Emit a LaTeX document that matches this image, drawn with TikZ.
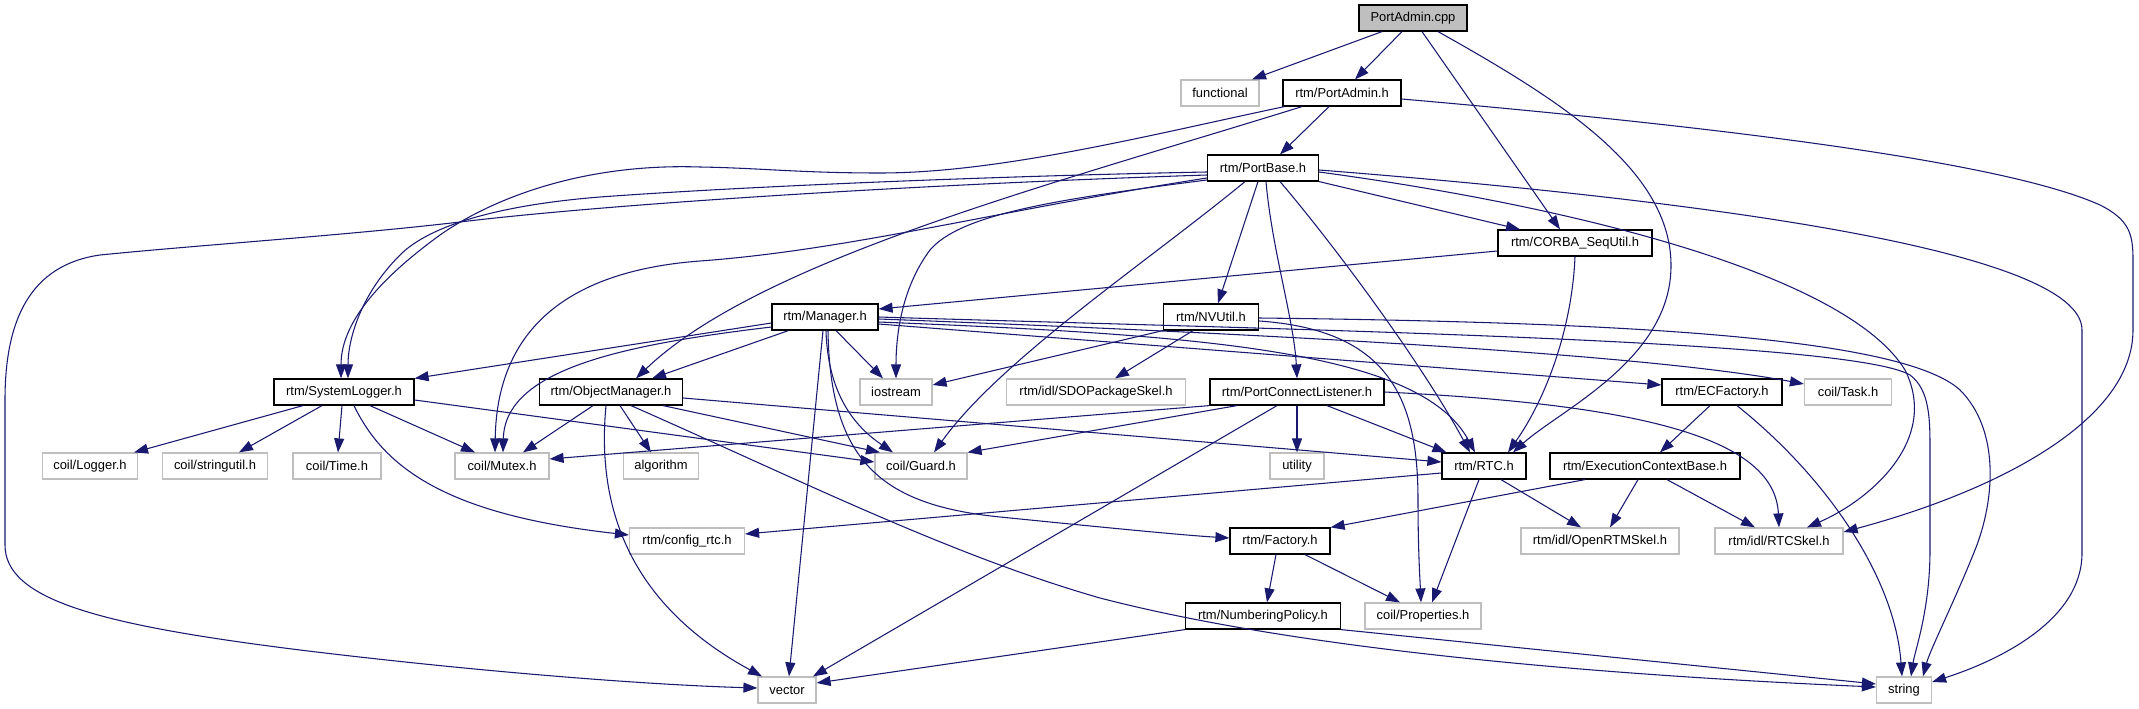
\documentclass[tikz,border=0pt]{standalone}
\usepackage{fontspec}
\setmainfont{Liberation Sans}
\usetikzlibrary{calc,arrows.meta}
\definecolor{edgeblue}{HTML}{191970}
\definecolor{grey75}{HTML}{BFBFBF}
\tikzset{
 box/.style={rectangle, inner sep=0pt, minimum height=19.5pt, font=\fontsize{9.7}{11}\selectfont, fill=white},
 doc/.style={box, draw=black, line width=0.9pt},
 ext/.style={box, draw=grey75, line width=0.9pt},
 root/.style={doc, fill=grey75},
 bw/.style={minimum width=#1*0.75pt},
 dep/.style={draw=edgeblue, line width=0.8pt, -{Triangle[length=10.5pt,width=7.5pt]}},
}
\begin{document}
\begin{tikzpicture}[x=0.75pt,y=-0.75pt]
\useasboundingbox (0,0) rectangle (2139,709);
% row 1
\node[root,bw=108] (cpp) at (1413,18) {PortAdmin.cpp};
% row 2
\node[ext,bw=78] (functional) at (1220,93) {functional};
\node[doc,bw=118] (padminh) at (1342,93) {rtm/PortAdmin.h};
% row 3
\node[doc,bw=111] (pbase) at (1263,168) {rtm/PortBase.h};
% row 4
\node[doc,bw=154] (corba) at (1575,243) {rtm/CORBA\_SeqUtil.h};
% row 5
\node[doc,bw=106] (manager) at (825,317) {rtm/Manager.h};
\node[doc,bw=95] (nvutil) at (1211,317) {rtm/NVUtil.h};
% row 6
\node[doc,bw=140] (syslog) at (344,392) {rtm/SystemLogger.h};
\node[doc,bw=143] (objmgr) at (611,392) {rtm/ObjectManager.h};
\node[ext,bw=72] (iostream) at (896,392) {iostream};
\node[ext,bw=179] (sdo) at (1096,392) {rtm/idl/SDOPackageSkel.h};
\node[doc,bw=174] (pcl) at (1297,392) {rtm/PortConnectListener.h};
\node[doc,bw=120] (ecf) at (1722,392) {rtm/ECFactory.h};
\node[ext,bw=87] (task) at (1848,392) {coil/Task.h};
% row 7
\node[ext,bw=95] (logger) at (90,466) {coil/Logger.h};
\node[ext,bw=105] (stringutil) at (215,466) {coil/stringutil.h};
\node[ext,bw=88] (time) at (337,466) {coil/Time.h};
\node[ext,bw=94] (mutex) at (502,466) {coil/Mutex.h};
\node[ext,bw=75] (algorithm) at (661,466) {algorithm};
\node[ext,bw=92] (guard) at (921,466) {coil/Guard.h};
\node[ext,bw=54] (utility) at (1297,466) {utility};
\node[doc,bw=84] (rtc) at (1484,466) {rtm/RTC.h};
\node[doc,bw=190] (ecb) at (1645,466) {rtm/ExecutionContextBase.h};
% row 8
\node[ext,bw=115] (config) at (687,541) {rtm/config\_rtc.h};
\node[doc,bw=100] (factory) at (1280,541) {rtm/Factory.h};
\node[ext,bw=158] (ortm) at (1600,541) {rtm/idl/OpenRTMSkel.h};
\node[ext,bw=128] (rtcskel) at (1779,541) {rtm/idl/RTCSkel.h};
% row 9
\node[doc,bw=155] (numpol) at (1263,616) {rtm/NumberingPolicy.h};
\node[ext,bw=116] (props) at (1423,616) {coil/Properties.h};
% row 10
\node[ext,bw=58] (vector) at (787,690) {vector};
\node[ext,bw=55] (string) at (1904,690) {string};

% PortAdmin.cpp
\draw[dep] ($(cpp.south)+(-31,0)$) -- ($(functional.north)+(32,0)$);
\draw[dep] ($(cpp.south)+(-11,0)$) -- ($(padminh.north)+(13,0)$);
\draw[dep] ($(cpp.south)+(9,0)$) -- ($(corba.north)+(-15,0)$);
\draw[dep] ($(cpp.south)+(25,0)$) .. controls (1560,100) and (1672,170) .. (1671,267) .. controls (1670,360) and (1560,410) .. ($(rtc.north)+(29,0)$);
% PortAdmin.h
\draw[dep] ($(padminh.south)+(-13,0)$) -- ($(pbase.north)+(17,0)$);
\draw[dep] ($(padminh.south west)+(2,0)$) .. controls (1150,135) and (1000,173) .. (880,173) .. controls (800,173) and (760,168) .. (700,167) .. controls (580,163) and (490,200) .. (440,235) .. controls (385,275) and (341,320) .. ($(syslog.north)+(-3,0)$);
\draw[dep] ($(padminh.south)+(-40,0)$) .. controls (1050,185) and (760,260) .. ($(objmgr.north)+(25,0)$);
\draw[dep] ($(padminh.east)+(0,6)$) .. controls (1700,125) and (2000,160) .. (2100,205) .. controls (2130,220) and (2133,235) .. (2133,260) -- (2133,330) .. controls (2133,420) and (2000,490) .. ($(rtcskel.east)+(0,-9)$);
% PortBase.h
\draw[dep] (pbase.south east) -- ($(corba.north)+(-55,0)$);
\draw[dep] ($(pbase.east)+(0,4)$) .. controls (1600,210) and (1850,280) .. (1905,370) .. controls (1940,440) and (1870,500) .. ($(rtcskel.north)+(28,0)$);
\draw[dep] ($(pbase.east)+(0,2)$) .. controls (1700,200) and (2082,250) .. (2082,330) -- (2082,553) .. controls (2082,620) and (2000,660) .. ($(string.east)+(0,-8)$);
\draw[dep] ($(pbase.south)+(-18,0)$) .. controls (1150,260) and (1000,360) .. ($(guard.north)+(13,0)$);
\draw[dep] ($(pbase.south)+(-5,0)$) -- ($(nvutil.north)+(7,0)$);
\draw[dep] ($(pbase.south)+(3,0)$) .. controls (1272,250) and (1294,320) .. (pcl.north);
\draw[dep] ($(pbase.south)+(17,0)$) .. controls (1330,240) and (1420,360) .. ($(rtc.north)+(-14,0)$);
\draw[dep] ($(pbase.west)+(0,4)$) .. controls (1000,176) and (750,186) .. (600,197) .. controls (500,205) and (430,225) .. (400,255) .. controls (360,295) and (348,340) .. ($(syslog.north)+(4,0)$);
\draw[dep] ($(pbase.west)+(0,7)$) .. controls (900,185) and (600,205) .. (460,222) .. controls (350,235) and (200,245) .. (100,255) .. controls (30,265) and (5,320) .. (5,400) -- (5,545) .. controls (5,600) and (100,625) .. (300,650) .. controls (480,672) and (650,685) .. ($(vector.west)+(0,-2)$);
\draw[dep] ($(pbase.west)+(0,10)$) .. controls (1000,210) and (850,250) .. (700,261) .. controls (580,270) and (497,320) .. ($(mutex.north)+(-7,0)$);
\draw[dep] ($(pbase.west)+(0,12)$) .. controls (1050,200) and (960,215) .. (930,250) .. controls (900,290) and (896,340) .. (iostream.north);
% CORBA_SeqUtil.h
\draw[dep] ($(corba.west)+(0,8)$) -- ($(manager.east)+(0,-8)$);
\draw[dep] (corba.south) .. controls (1572,330) and (1545,400) .. ($(rtc.north)+(24,0)$);
% NVUtil.h
\draw[dep] (nvutil.south west) -- ($(iostream.east)+(0,-7)$);
\draw[dep] ($(nvutil.south)+(-18,0)$) -- ($(sdo.north)+(19,0)$);
\draw[dep] ($(nvutil.east)+(0,4)$) .. controls (1390,330) and (1418,400) .. (1418,500) .. controls (1418,550) and (1420,580) .. ($(props.north)+(-2,0)$);
\draw[dep] ($(nvutil.east)+(0,1)$) .. controls (1600,322) and (1900,335) .. (1960,390) .. controls (2000,430) and (1995,500) .. (1975,550) .. controls (1955,600) and (1930,650) .. ($(string.north)+(19,0)$);
% Manager.h
\draw[dep] ($(manager.west)+(0,6)$) -- (syslog.north east);
\draw[dep] ($(manager.south west)+(17,0)$) -- ($(objmgr.north)+(41,0)$);
\draw[dep] ($(manager.west)+(0,10)$) .. controls (620,345) and (505,370) .. ($(mutex.north)+(1,0)$);
\draw[dep] ($(manager.south)+(11,0)$) -- ($(iostream.north)+(-13,0)$);
\draw[dep] ($(manager.south)+(-2,0)$) -- ($(vector.north)+(2,0)$);
\draw[dep] ($(manager.south)+(1,0)$) .. controls (828,400) and (860,430) .. ($(guard.north)+(-28,0)$);
\draw[dep] ($(manager.south)+(3,0)$) .. controls (830,460) and (880,505) .. (1000,517) .. controls (1100,527) and (1180,535) .. ($(factory.west)+(0,-3)$);
\draw[dep] ($(manager.east)+(0,5)$) .. controls (1200,335) and (1420,350) .. ($(rtc.north)+(-9,0)$);
\draw[dep] ($(manager.east)+(0,7)$) -- ($(ecf.west)+(0,-7)$);
\draw[dep] ($(manager.east)+(0,2)$) .. controls (1300,335) and (1650,355) .. ($(task.west)+(0,-8)$);
\draw[dep] ($(manager.east)+(0,0)$) .. controls (1300,330) and (1850,340) .. (1910,375) .. controls (1930,390) and (1930,420) .. (1930,450) -- (1930,550) .. controls (1930,610) and (1915,650) .. ($(string.north)+(7,0)$);
% SystemLogger.h
\draw[dep] ($(syslog.south)+(-41,0)$) -- ($(logger.north)+(44,0)$);
\draw[dep] ($(syslog.south)+(-22,0)$) -- ($(stringutil.north)+(24,0)$);
\draw[dep] ($(syslog.south)+(-2,0)$) -- ($(time.north)+(1,0)$);
\draw[dep] ($(syslog.south)+(26,0)$) -- ($(mutex.north)+(-27,0)$);
\draw[dep] ($(syslog.east)+(0,8)$) -- ($(guard.west)+(0,-4)$);
\draw[dep] ($(syslog.south)+(10,0)$) .. controls (385,470) and (450,515) .. ($(config.west)+(0,-6)$);
% ObjectManager.h
\draw[dep] ($(objmgr.south)+(-18,0)$) -- ($(mutex.north)+(21,0)$);
\draw[dep] ($(objmgr.south)+(9,0)$) -- ($(algorithm.north)+(-10,0)$);
\draw[dep] ($(objmgr.south)+(52,0)$) -- ($(guard.north)+(-41,0)$);
\draw[dep] ($(objmgr.south)+(-5,0)$) .. controls (595,520) and (640,610) .. ($(vector.north)+(-25,0)$);
\draw[dep] ($(objmgr.east)+(0,6)$) -- ($(rtc.west)+(0,-4)$);
\draw[dep] ($(objmgr.south)+(20,0)$) .. controls (800,480) and (950,555) .. (1100,598) .. controls (1300,650) and (1600,675) .. ($(string.west)+(0,-3)$);
% PortConnectListener.h
\draw[dep] (pcl.south west) -- ($(mutex.east)+(0,-7)$);
\draw[dep] ($(pcl.south)+(-60,0)$) -- (guard.north east);
\draw[dep] ($(pcl.south)+(-20,0)$) -- ($(vector.north)+(26,0)$);
\draw[dep] (pcl.south) -- (utility.north);
\draw[dep] ($(pcl.south)+(30,0)$) -- ($(rtc.north west)+(5,0)$);
\draw[dep] (pcl.east) .. controls (1650,405) and (1775,440) .. (rtcskel.north);
% ECFactory.h
\draw[dep] ($(ecf.south)+(-12,0)$) -- ($(ecb.north)+(15,0)$);
\draw[dep] ($(ecf.south)+(15,0)$) .. controls (1830,480) and (1895,580) .. ($(string.north)+(-2,0)$);
% ExecutionContextBase.h
\draw[dep] ($(ecb.south)+(-60,0)$) -- (factory.north east);
\draw[dep] ($(ecb.south)+(-7,0)$) -- ($(ortm.north)+(10,0)$);
\draw[dep] ($(ecb.south)+(22,0)$) -- ($(rtcskel.north)+(-24,0)$);
% RTC.h
\draw[dep] ($(rtc.west)+(0,7)$) -- ($(config.east)+(0,-7)$);
\draw[dep] ($(rtc.south)+(-5,0)$) -- ($(props.north)+(9,0)$);
\draw[dep] ($(rtc.south)+(17,0)$) -- ($(ortm.north)+(-19,0)$);
% Factory.h
\draw[dep] ($(factory.south)+(-4,0)$) -- ($(numpol.north)+(4,0)$);
\draw[dep] ($(factory.south)+(25,0)$) -- ($(props.north)+(-23,0)$);
% NumberingPolicy.h
\draw[dep] (numpol.south west) -- ($(vector.east)+(0,-7)$);
\draw[dep] (numpol.south east) -- ($(string.west)+(0,-6)$);
\end{tikzpicture}
\end{document}
